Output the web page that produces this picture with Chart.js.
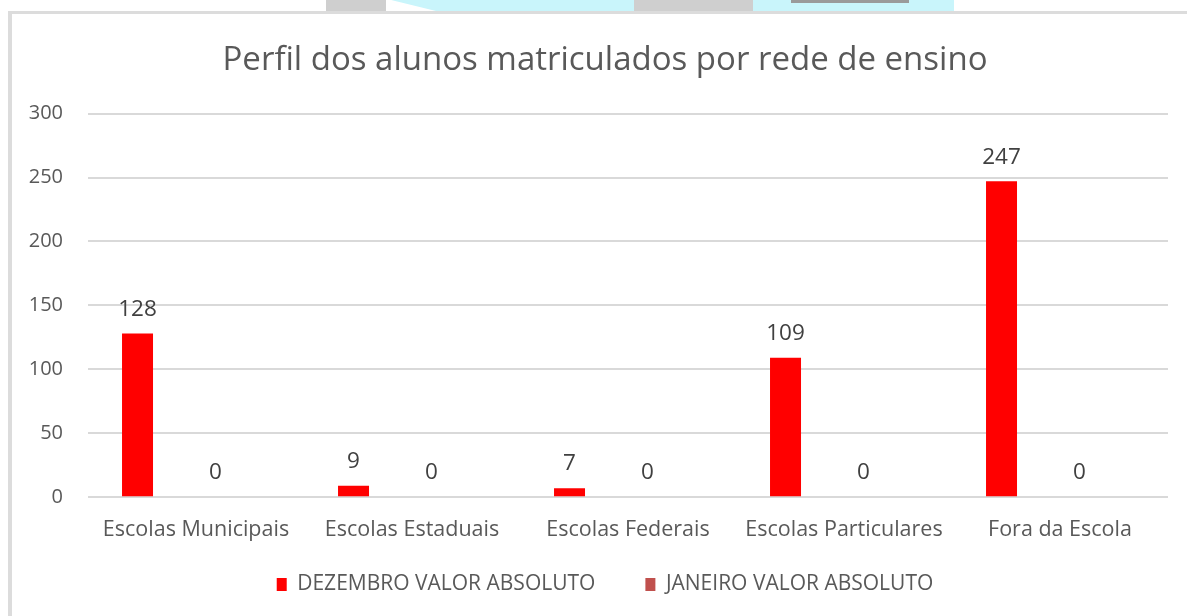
<!DOCTYPE html>
<html>
<head>
<meta charset="utf-8">
<script src="https://cdn.jsdelivr.net/npm/chart.js@4"></script>
<style>
  html, body { margin: 0; padding: 0; background: #fff; width: 1187px; height: 616px; overflow: hidden; position: relative; }
  .deco { position: absolute; top: 0; height: 11px; }
  #frame {
    position: absolute; left: 8px; top: 11px; width: 1186px; height: 602px;
    border-left: 4px solid #dcdcdc; border-top: 3px solid #dcdcdc; background: #fff;
  }
</style>
</head>
<body>
<!-- bits of the slide above the chart -->
<div class="deco" style="left:326px;width:60px;background:#cfcfcf;"></div>
<div class="deco" style="left:370px;width:264px;background:#c9f5fb;clip-path:polygon(8% 0,100% 0,100% 100%,25% 100%);"></div>
<div class="deco" style="left:634px;width:119px;background:#cfcfcf;"></div>
<div class="deco" style="left:753px;width:201px;background:#c9f5fb;"></div>
<div class="deco" style="left:791px;width:118px;height:3px;background:#9a9a9a;"></div>

<div id="frame"><canvas id="grafico"></canvas></div>

<script>
const categorias = ['Escolas Municipais', 'Escolas Estaduais', 'Escolas Federais', 'Escolas Particulares', 'Fora da Escola'];
const dezembro = [128, 9, 7, 109, 247];
const janeiro = [0, 0, 0, 0, 0];
const ticksY = [0, 50, 100, 150, 200, 250, 300];

const fonte = '"Open Sans", "Noto Sans", sans-serif';

// rótulos de valor em cima das barras
const rotulos = {
    id: 'rotulos',
    afterDatasetsDraw(chart) {
        const ctx = chart.ctx;
        ctx.save();
        ctx.font = '22.5px ' + fonte;
        ctx.fillStyle = '#404040';
        ctx.textAlign = 'center';
        ctx.textBaseline = 'bottom';
        chart.data.datasets.forEach((ds, i) => {
            if (!ds.label) return;
            const meta = chart.getDatasetMeta(i);
            meta.data.forEach((bar, j) => {
                ctx.fillText(String(ds.data[j]), bar.x, bar.y - 13);
            });
        });
        ctx.restore();
    }
};

// a legenda tem espaço grande entre itens, mas fica mais perto do eixo
const subirLegenda = {
    id: 'subirLegenda',
    afterLayout(chart) {
        const lg = chart.legend;
        if (lg) {
            lg.top -= 31;
            lg.bottom -= 31;
        }
    }
};

const ctx = document.getElementById('grafico').getContext('2d');
new Chart(ctx, {
    type: 'bar',
    data: {
        labels: categorias,
        datasets: [
            { label: 'DEZEMBRO VALOR ABSOLUTO', data: dezembro, backgroundColor: '#ff0000' },
            { label: '', data: [], backgroundColor: 'transparent' },
            { label: 'JANEIRO VALOR ABSOLUTO', data: janeiro, backgroundColor: '#c0504d' },
            { label: '', data: [], backgroundColor: 'transparent' }
        ]
    },
    options: {
        responsive: true,
        maintainAspectRatio: false,
        animation: false,
        datasets: {
            bar: { categoryPercentage: 0.722, barPercentage: 0.795 }
        },
        layout: { padding: { left: 0, right: 0, top: 27, bottom: -20 } },
        plugins: {
            title: {
                display: true,
                text: 'Perfil dos alunos matriculados por rede de ensino',
                color: '#595959',
                font: { family: fonte, size: 33, weight: 'normal' },
                padding: { top: 0, bottom: 33 }
            },
            legend: {
                position: 'bottom',
                labels: {
                    color: '#595959',
                    font: { family: fonte, size: 21 },
                    boxWidth: 10,
                    boxHeight: 13,
                    padding: 50,
                    filter: item => item.text !== ''
                }
            },
            tooltip: { enabled: false }
        },
        scales: {
            x: {
                grid: { display: false },
                border: { display: false },
                ticks: { color: '#595959', font: { family: fonte, size: 21.5 }, padding: 12, maxRotation: 0 }
            },
            y: {
                min: 0,
                max: 300,
                afterFit: scale => { scale.width = 76; },
                afterBuildTicks: scale => { scale.ticks = ticksY.map(v => ({ value: v })); },
                grid: { color: '#d9d9d9', lineWidth: 2, drawTicks: false },
                border: { display: false },
                ticks: { color: '#595959', font: { family: fonte, size: 20 }, padding: 25 }
            },
            margem: {
                position: 'right',
                afterFit: scale => { scale.width = 30; },
                grid: { display: false },
                border: { display: false },
                ticks: { display: false }
            }
        }
    },
    plugins: [rotulos, subirLegenda]
});
</script>
</body>
</html>
